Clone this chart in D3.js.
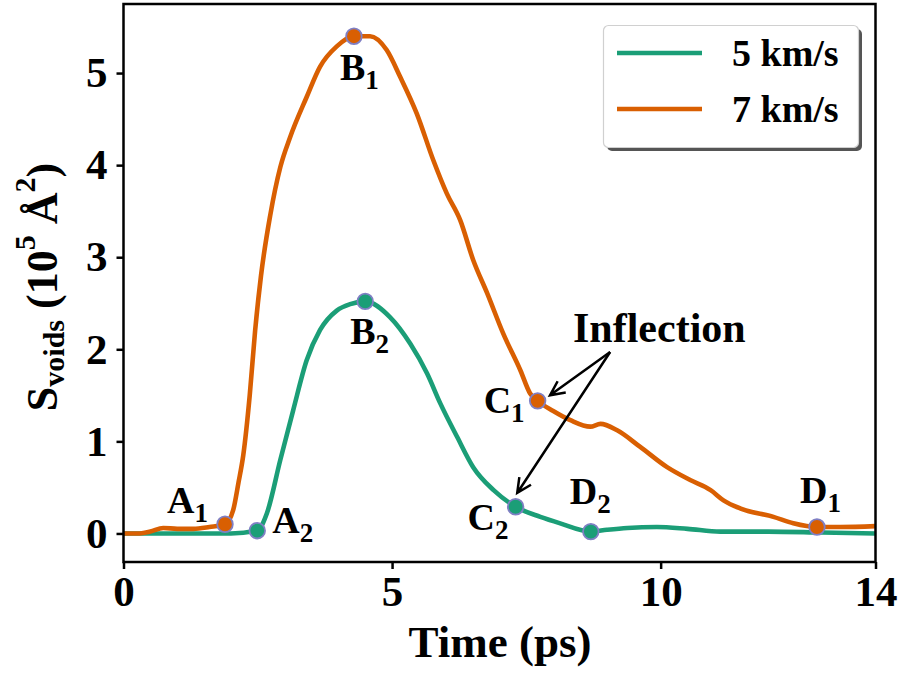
<!doctype html>
<html>
<head>
<meta charset="utf-8">
<title>Voids area vs time</title>
<style>
  body { margin: 0; background: #fff; }
  svg text { font-family: 'Liberation Serif', 'Times New Roman', serif; font-weight: bold; fill: #000; }
</style>
</head>
<body>
<div id="chart"></div>
<script src="https://cdnjs.cloudflare.com/ajax/libs/d3/7.8.5/d3.min.js"></script>
<script>
// ---- data ----
var seriesNames = ["5 km/s", "7 km/s"];

var time5 = [0, 1, 2, 2.49, 2.67, 2.92, 3.16, 3.41, 3.66, 3.97, 4.22, 4.50, 4.96, 5.34, 5.65, 5.90, 6.21, 6.51, 6.89, 7.30, 7.76, 8.13, 8.70, 9.0, 9.38, 9.93, 10.5, 11.11, 12, 13, 14];
var voids5 = [0, 0, 0, 0.03, 0.22, 0.80, 1.34, 1.88, 2.21, 2.42, 2.49, 2.52, 2.35, 2.06, 1.74, 1.41, 1.05, 0.72, 0.47, 0.29, 0.18, 0.11, 0.02, 0.04, 0.06, 0.07, 0.05, 0.02, 0.02, 0.01, 0.0];

var time7 = [0, 0.3, 0.5, 0.74, 1.0, 1.3, 1.6, 1.89, 2.04, 2.14, 2.23, 2.35, 2.45, 2.56, 2.73, 2.92, 3.10, 3.41, 3.66, 3.97, 4.29, 4.59, 4.90, 5.15, 5.46, 5.77, 6.02, 6.27, 6.51, 6.77, 7.07, 7.39, 7.57, 7.71, 8.0, 8.32, 8.69, 8.88, 9.19, 9.62, 10.12, 10.55, 10.93, 11.17, 11.49, 12.10, 12.47, 12.91, 13.35, 14];
var voids7 = [0, 0, 0.02, 0.06, 0.05, 0.05, 0.07, 0.10, 0.25, 0.55, 0.85, 1.5, 2.2, 2.8, 3.45, 3.98, 4.30, 4.74, 5.07, 5.29, 5.40, 5.40, 5.25, 4.96, 4.56, 4.05, 3.69, 3.40, 2.97, 2.61, 2.17, 1.77, 1.52, 1.44, 1.33, 1.23, 1.16, 1.19, 1.12, 0.94, 0.72, 0.58, 0.47, 0.36, 0.27, 0.18, 0.11, 0.07, 0.07, 0.08];

var markerNames = ["A", "A", "B", "B", "C", "C", "D", "D"];
var markerSubs = ["1", "2", "1", "2", "1", "2", "2", "1"];
var markerSeries = [1, 0, 1, 0, 1, 0, 0, 1];
var markerTime = [1.89, 2.49, 4.29, 4.50, 7.71, 7.30, 8.70, 12.91];
var markerValue = [0.10, 0.03, 5.40, 2.52, 1.44, 0.29, 0.02, 0.07];

var xTicks = [0, 5, 10, 14];
var yTicks = [0, 1, 2, 3, 4, 5];

// ---- layout ----
var width = 901, height = 673;
var colors = ["#1b9e77", "#d95f02"];
var edgeColor = "#7f7fc4";

var svg = d3.select("#chart").append("svg").attr("width", width).attr("height", height);

var x = d3.scaleLinear([0, 14], [123.5, 875.5]);
var y = d3.scaleLinear([-0.31, 5.75], [562, 4]);

var xAxis = d3.axisBottom(x).tickValues(xTicks).tickSize(7).tickPadding(6).tickFormat(d3.format("d"));
var yAxis = d3.axisLeft(y).tickValues(yTicks).tickSize(7).tickPadding(9).tickFormat(d3.format("d"));

svg.append("g").attr("class", "x-axis")
  .attr("transform", "translate(0,562)")
  .call(xAxis);
svg.append("g").attr("class", "y-axis")
  .attr("transform", "translate(123.5,0)")
  .call(yAxis);

svg.selectAll(".domain").remove();
svg.selectAll(".tick line").attr("stroke", "#000").attr("stroke-width", 2.5);
svg.selectAll(".tick text").style("font-size", "43px").attr("fill", "#000");

// curves
var data5 = time5.map((t, i) => [t, voids5[i]]);
var data7 = time7.map((t, i) => [t, voids7[i]]);
var line = d3.line().x(d => x(d[0])).y(d => y(d[1])).curve(d3.curveMonotoneX);

svg.append("path").datum(data5)
  .attr("d", line).attr("fill", "none")
  .attr("stroke", colors[0]).attr("stroke-width", 4.6).attr("stroke-linejoin", "round");
svg.append("path").datum(data7)
  .attr("d", line).attr("fill", "none")
  .attr("stroke", colors[1]).attr("stroke-width", 4.6).attr("stroke-linejoin", "round");

// frame
svg.append("rect")
  .attr("x", 123.5).attr("y", 4).attr("width", 752).attr("height", 558)
  .attr("fill", "none").attr("stroke", "#000").attr("stroke-width", 2.5);

// markers
var markers = markerTime.map((t, i) => ({ t: t, v: markerValue[i], s: markerSeries[i], name: markerNames[i], sub: markerSubs[i] }));

svg.append("g").selectAll("circle")
  .data(markers)
  .join("circle")
  .attr("cx", d => x(d.t))
  .attr("cy", d => y(d.v))
  .attr("r", 7.8)
  .attr("fill", d => colors[d.s])
  .attr("stroke", edgeColor)
  .attr("stroke-width", 1.8);

// label offsets from each marker (pixels)
var labelDx = [-58, 15, -14, -15, -54, -48, -21, -17];
var labelDy = [-11, 2, 44, 43, 12, 23, -28, -24];

var labels = svg.append("g").selectAll("text")
  .data(markers)
  .join("text")
  .attr("x", (d, i) => x(d.t) + labelDx[i])
  .attr("y", (d, i) => y(d.v) + labelDy[i])
  .style("font-size", "38px");
labels.append("tspan").text(d => d.name);
labels.append("tspan").attr("dy", 9).style("font-size", "27px").text(d => d.sub);

// inflection annotation
var arrowFrom = [9.06, 1.97];
var arrowTips = [[7.94, 1.50], [7.33, 0.44]];

svg.append("text")
  .attr("x", 573).attr("y", 342)
  .style("font-size", "42px")
  .text("Inflection");

arrowTips.forEach(function (tip) {
  var x0 = x(arrowFrom[0]), y0 = y(arrowFrom[1]);
  var x1 = x(tip[0]), y1 = y(tip[1]);
  var ang = Math.atan2(y1 - y0, x1 - x0);
  var hl = 16, ha = 0.45;
  var p1 = [x1 - hl * Math.cos(ang - ha), y1 - hl * Math.sin(ang - ha)];
  var p2 = [x1 - hl * Math.cos(ang + ha), y1 - hl * Math.sin(ang + ha)];
  svg.append("path")
    .attr("d", `M${x0},${y0}L${x1},${y1}M${p1[0]},${p1[1]}L${x1},${y1}L${p2[0]},${p2[1]}`)
    .attr("fill", "none").attr("stroke", "#000").attr("stroke-width", 2.5)
    .attr("stroke-linejoin", "miter");
});

// legend
var legend = svg.append("g").attr("class", "legend");
legend.append("rect")
  .attr("x", 607).attr("y", 29).attr("width", 255).attr("height", 122).attr("rx", 5)
  .attr("fill", "#555");
legend.append("rect")
  .attr("x", 603.5).attr("y", 25.5).attr("width", 255).attr("height", 122).attr("rx", 5)
  .attr("fill", "#fff").attr("stroke", "#d0d0d0").attr("stroke-width", 1.2);

legend.selectAll("line")
  .data(seriesNames)
  .join("line")
  .attr("x1", 617).attr("x2", 702)
  .attr("y1", (d, i) => 53 + i * 56).attr("y2", (d, i) => 53 + i * 56)
  .attr("stroke", (d, i) => colors[i]).attr("stroke-width", 4.6);

legend.selectAll("text")
  .data(seriesNames)
  .join("text")
  .attr("x", 732)
  .attr("y", (d, i) => 66 + i * 56)
  .style("font-size", "38px")
  .text(d => d);

// axis titles
svg.append("text")
  .attr("x", 500).attr("y", 657)
  .attr("text-anchor", "middle")
  .style("font-size", "45px")
  .text("Time (ps)");

var ylab = svg.append("text")
  .attr("transform", "translate(57,287) rotate(-90)")
  .attr("text-anchor", "middle")
  .style("font-size", "44px");
ylab.append("tspan").text("S");
ylab.append("tspan").attr("dy", 7).style("font-size", "30px").text("voids");
ylab.append("tspan").attr("dy", -7).text(" (10");
ylab.append("tspan").attr("dy", -22).style("font-size", "30px").text("5");
ylab.append("tspan").attr("dy", 22).text(" Å");
ylab.append("tspan").attr("dy", -22).style("font-size", "30px").text("2");
ylab.append("tspan").attr("dy", 22).text(")");
</script>
</body>
</html>
